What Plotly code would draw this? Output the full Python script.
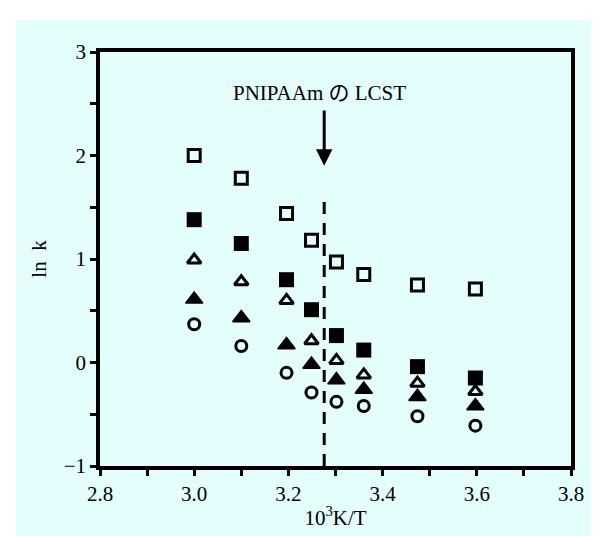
import plotly.graph_objects as go

inv_T = [3.0, 3.1, 3.196, 3.249, 3.302, 3.36, 3.474, 3.597]
open_sq = [2.0, 1.78, 1.44, 1.18, 0.97, 0.85, 0.75, 0.71]
fill_sq = [1.38, 1.15, 0.80, 0.51, 0.26, 0.12, -0.04, -0.15]
open_tri = [0.99, 0.78, 0.60, 0.21, 0.02, -0.12, -0.20, -0.28]
fill_tri = [0.61, 0.43, 0.17, -0.02, -0.17, -0.26, -0.33, -0.42]
open_circ = [0.37, 0.16, -0.10, -0.29, -0.38, -0.42, -0.52, -0.61]

lcst_x = 3.276
x_tickvals = [2.8, 2.9, 3.0, 3.1, 3.2, 3.3, 3.4, 3.5, 3.6, 3.7, 3.8]
x_ticktext = ["2.8", "", "3.0", "", "3.2", "", "3.4", "", "3.6", "", "3.8"]
y_tickvals = [-1, -0.5, 0, 0.5, 1, 1.5, 2, 2.5, 3]
y_ticktext = ["−1", "", "0", "", "1", "", "2", "", "3"]

CYAN = "#e4fdfd"
FONT = "Liberation Serif, Noto Sans CJK JP, serif"
AXC = "black"

fig = go.Figure()

series = [
    (open_sq, "square-open", 12, 3),
    (fill_sq, "square", 15, 0),
    (open_tri, "triangle-up-open", 12, 3),
    (fill_tri, "triangle-up", 15, 1.5),
    (open_circ, "circle-open", 11, 3),
]
for ys, sym, size, lw in series:
    fig.add_trace(go.Scatter(
        x=inv_T, y=ys, mode="markers",
        marker=dict(symbol=sym, size=size, color="black",
                    line=dict(color="black", width=lw)),
        showlegend=False,
    ))

fig.add_trace(go.Scatter(
    x=[lcst_x, lcst_x], y=[-1, 1.62], mode="lines",
    line=dict(color="black", width=3, dash="12px,9px"),
    showlegend=False,
))

fig.add_shape(type="rect", xref="paper", yref="paper",
              x0=-0.3, x1=1.2, y0=1.077, y1=1.3,
              fillcolor="white", line=dict(width=0), layer="below")
fig.add_shape(type="rect", xref="paper", yref="paper",
              x0=-0.3, x1=-0.178, y0=-0.3, y1=1.3,
              fillcolor="white", line=dict(width=0), layer="below")

fig.add_annotation(x=lcst_x, y=1.9, ax=lcst_x, ay=2.45,
                   xref="x", yref="y", axref="x", ayref="y",
                   showarrow=True, arrowhead=2, arrowsize=1.1,
                   arrowwidth=3, arrowcolor="black", text="")
fig.add_annotation(x=3.267, y=2.6, xref="x", yref="y",
                   text="PNIPAAm の LCST", showarrow=False,
                   font=dict(family=FONT, size=21, color="black"))

fig.update_xaxes(
    range=[2.8, 3.8], tickmode="array", tickvals=x_tickvals, ticktext=x_ticktext,
    showline=True, linecolor=AXC, linewidth=3.5, mirror=True,
    ticks="outside", ticklen=6, tickwidth=3, tickcolor=AXC,
    showgrid=False, zeroline=False,
    tickfont=dict(family=FONT, size=21, color="black"),
    title=dict(text="10<sup>3</sup>K/T", font=dict(family=FONT, size=21, color="black"), standoff=6),
)
fig.update_yaxes(
    range=[-1, 3], tickmode="array", tickvals=y_tickvals, ticktext=y_ticktext,
    showline=True, linecolor=AXC, linewidth=3.5, mirror=True,
    ticks="outside", ticklen=6, tickwidth=3, tickcolor=AXC,
    showgrid=False, zeroline=False,
    tickfont=dict(family=FONT, size=21, color="black"),
    title=dict(text="ln  k", font=dict(family=FONT, size=21, color="black"), standoff=12),
)

fig.update_layout(
    width=599, height=536,
    margin=dict(l=92, r=36, t=44, b=78),
    paper_bgcolor=CYAN, plot_bgcolor=CYAN,
)

fig.write_html("out.html")
